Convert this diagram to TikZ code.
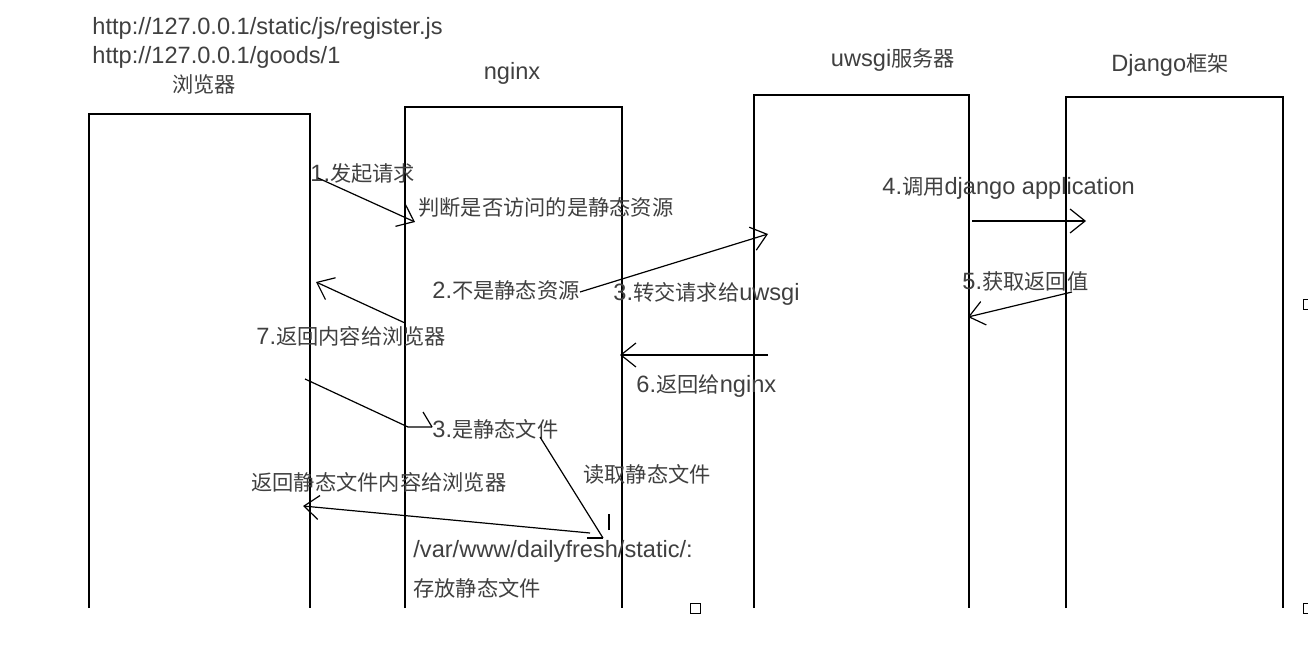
\documentclass[tikz,border=0pt]{standalone}
\usepackage{fontspec}
\setmainfont{Liberation Sans}
\newfontfamily\cjk[Scale=0.9]{Noto Sans CJK SC}
\usetikzlibrary{arrows.meta}
\definecolor{txt}{HTML}{404040}
\tikzset{
  lbl/.style={text=txt,inner sep=0pt,anchor=west,font=\fontsize{11.8}{13}\selectfont},
  ttl/.style={text=txt,inner sep=0pt,font=\fontsize{11.8}{13}\selectfont},
  msg/.style={line width=0.6pt,-{Straight Barb[length=7.5pt,width=12pt,line width=0.6pt]}},
  hand/.style={line width=0.6pt}
}
\begin{document}
\begin{tikzpicture}[x=0.5pt,y=-0.5pt]
  \useasboundingbox (0,0) rectangle (1308,652);
  \def\bot{608}

  % boxes, open at the bottom
  \foreach \l/\r/\t in {89/310/114,405/622/107,754/969/95,1066/1283/97} {
    \draw[hand] (\l,\bot) -- (\l,\t) -- (\r,\t) -- (\r,\bot);
  }

  % titles
  \node[lbl] (url1) at (92,28) {http://127.0.0.1/static/js/register.js};
  \node[lbl] (url2) at (92,57) {http://127.0.0.1/goods/1};
  \node[ttl] (browser) at (204,84) {\cjk 浏览器};
  \node[ttl] (nginx) at (512,73) {nginx};
  \node[ttl] (uwsgi) at (893,60) {uwsgi{\cjk 服务器}};
  \node[ttl] (django) at (1170,65) {Django{\cjk 框架}};

  % labels
  \node[lbl] (l1) at (310,173) {1.{\cjk 发起请求}};
  \node[lbl] (judge) at (418,207) {\cjk 判断是否访问的是静态资源};
  \node[lbl] (l2) at (432,290) {2.{\cjk 不是静态资源}};
  \node[lbl] (l3) at (613,294) {3.{\cjk 转交请求给}uwsgi};
  \node[lbl] (l4) at (882,188) {4.{\cjk 调用}django application};
  \node[lbl] (l5) at (962,281) {5.{\cjk 获取返回值}};
  \node[lbl] (l6) at (636,386) {6.{\cjk 返回给}nginx};
  \node[lbl] (l7) at (256,336) {7.{\cjk 返回内容给浏览器}};
  \node[lbl] (l3b) at (432,429) {3.{\cjk 是静态文件}};
  \node[lbl] (read) at (583,474) {\cjk 读取静态文件};
  \node[lbl] (back) at (251,482) {\cjk 返回静态文件内容给浏览器};
  \node[lbl] (path) at (413,551) {/var/www/dailyfresh/static/:};
  \node[lbl] (store) at (413,588) {\cjk 存放静态文件};

  % end points of the connectors
  \coordinate (a1s) at (318,178);   \coordinate (a1e) at (415,222);
  \coordinate (a2s) at (580,292);   \coordinate (a2e) at (768,234);
  \coordinate (a4s) at (972,221);   \coordinate (a4e) at (1086,221);
  \coordinate (a5s) at (1072,292);  \coordinate (a5e) at (968,317);
  \coordinate (a6s) at (768,355);   \coordinate (a6e) at (620,355);
  \coordinate (a7s) at (405,323);   \coordinate (a7e) at (316,282);
  \coordinate (s1) at (305,379);    \coordinate (s2) at (408,427);
  \coordinate (s3) at (432,427);
  \coordinate (r1) at (540,437);    \coordinate (r2) at (603,538);
  \coordinate (b1) at (590,533);    \coordinate (b2) at (303,506);

  \foreach \a in {1,2,4,5,6,7} {
    \draw[msg] (a\a s) -- (a\a e);
  }
  \draw[msg] (b1) -- (b2);

  % hand drawn static file path
  \draw[hand] (s1) -- (s2) -- (s3);
  \draw[hand] (s3) -- ++(-9,-15);
  \draw[hand] (r1) -- (r2);
  \draw[hand] (r2) -- ++(-16,0) (r2) ++(6,-8) -- ++(0,-16);

  % small boxes
  \foreach \x/\y in {690/603,1303/300,1303/603} {
    \draw[line width=0.5pt] (\x,\y) rectangle ++(10,10);
  }
\end{tikzpicture}
\end{document}
